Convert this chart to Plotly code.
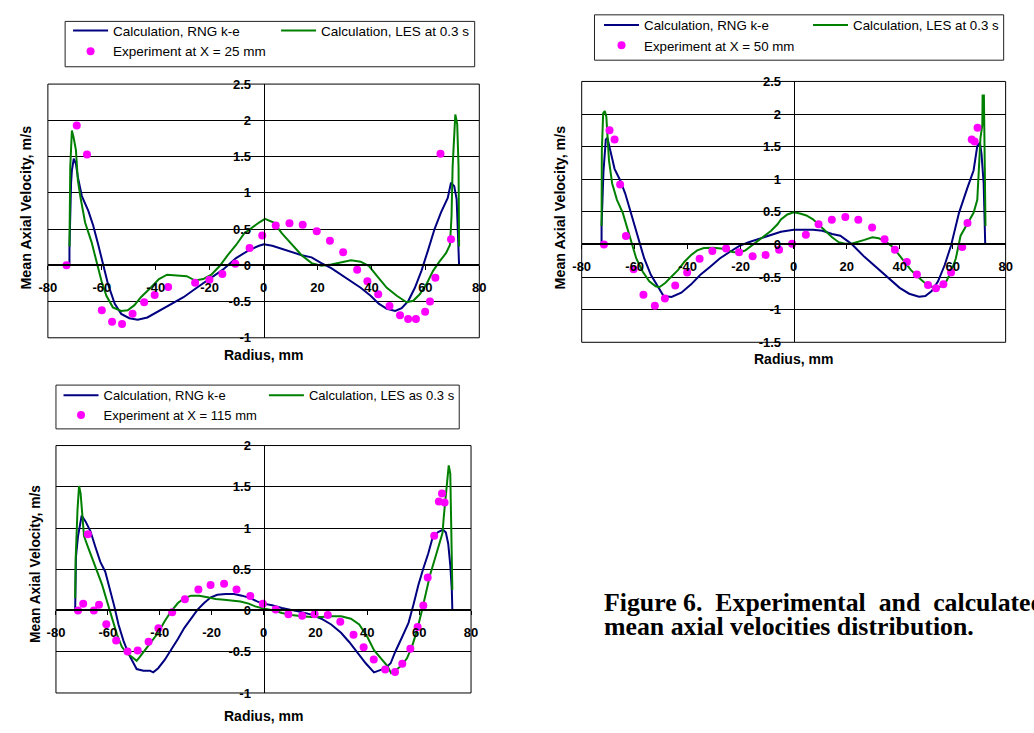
import plotly.graph_objects as go

W, H = 1034, 733

# ---------------- data: chart 1 (X = 25 mm) ----------------
exp1_r = [-73.1, -69.3, -65.5, -60.0, -56.2, -52.5, -48.6, -44.3, -40.4, -35.4, -25.4, -20.1, -15.3, -10.5,
          -5.2, -0.5, 4.5, 9.6, 14.5, 19.7, 24.6, 29.5, 34.7, 38.5, 42.5, 46.7, 50.6, 53.6, 56.5, 59.9,
          61.7, 63.7, 65.6, 69.5]
exp1_v = [0.0, 1.93, 1.53, -0.62, -0.78, -0.81, -0.67, -0.51, -0.41, -0.30, -0.24, -0.20, -0.12, 0.02,
          0.24, 0.41, 0.55, 0.58, 0.56, 0.47, 0.34, 0.18, -0.06, -0.22, -0.40, -0.56, -0.69, -0.74, -0.74, -0.64,
          -0.50, -0.17, 1.54, 0.36]
rng1_r = [-72.0, -72.0, -71.4, -71.1, -70.4, -69.6, -68.9, -67.4, -65.0, -63.2, -61.3, -59.5, -57.7, -55.2,
          -52.8, -49.8, -46.7, -43.1, -39.4, -34.6, -29.7, -24.8, -20.0, -15.1, -10.2, -5.4, -1.7, 0.1, 3.2,
          6.8, 10.5, 14.1, 17.8, 21.4, 25.1, 28.7, 32.4, 36.0, 39.7, 42.7, 45.7, 48.8, 51.2, 53.7, 56.1, 58.5,
          61.0, 63.4, 65.8, 68.3, 69.5, 70.7, 71.6, 72.1, 72.5]
rng1_v = [0.0, 0.23, 1.14, 1.31, 1.47, 1.40, 1.22, 0.955, 0.75, 0.55, 0.28, 0.0, -0.26, -0.53,
          -0.67, -0.73, -0.75, -0.72, -0.64, -0.54, -0.44, -0.31, -0.19, -0.06, 0.10, 0.21, 0.27, 0.29, 0.27,
          0.23, 0.18, 0.14, 0.11, 0.03, -0.04, -0.13, -0.22, -0.31, -0.42, -0.53, -0.60, -0.63, -0.59, -0.49,
          -0.31, -0.08, 0.21, 0.50, 0.73, 0.93, 1.14, 1.09, 0.91, 0.41, 0.0]
les1_r = [-72.0, -71.7, -71.1, -70.5, -69.6, -68.9, -68.0, -66.2, -63.8, -62.0, -60.1, -58.3, -55.9, -52.8,
          -50.4, -47.9, -45.5, -41.9, -38.8, -35.8, -32.1, -28.5, -25.4, -22.4, -19.4, -16.3, -13.3, -10.2,
          -7.2, -4.1, -1.7, 0.5, 3.8, 6.8, 10.5, 14.1, 17.8, 21.4, 25.1, 28.7, 32.4, 36.0, 39.1, 42.1, 45.7,
          49.4, 53.0, 55.5, 57.9, 60.4, 62.8, 65.2, 67.7, 69.1, 69.7, 70.1, 70.5, 71.1, 71.8, 72.3, 72.5]
les1_v = [0.26, 1.36, 1.86, 1.77, 1.59, 1.18, 0.955, 0.59, 0.32, 0.05, -0.22, -0.42, -0.58, -0.63,
          -0.62, -0.55, -0.44, -0.31, -0.19, -0.13, -0.135, -0.15, -0.21, -0.19, -0.13, -0.01, 0.14, 0.28,
          0.44, 0.53, 0.59, 0.64, 0.59, 0.44, 0.28, 0.14, 0.03, -0.005, 0.01, 0.04, 0.07, 0.05, -0.01, -0.15,
          -0.31, -0.42, -0.51, -0.49, -0.40, -0.26, -0.08, 0.05, 0.17, 0.28, 0.68, 1.36, 1.68, 2.08, 1.95,
          1.36, 0.26]

# ---------------- data: chart 2 (X = 50 mm) ----------------
exp2_r = [-71.6, -69.5, -67.6, -65.5, -63.3, -60.4, -56.7, -52.4, -48.6, -44.7, -40.2, -35.5, -30.7, -25.5,
          -20.6, -15.5, -10.6, -5.5, -0.6, 4.6, 9.4, 14.4, 19.5, 24.4, 29.6, 34.3, 38.2, 42.7, 46.5, 50.7,
          53.7, 56.5, 59.4, 63.6, 65.6, 67.2, 68.3, 69.4]
exp2_v = [0.0, 1.75, 1.61, 0.92, 0.13, -0.38, -0.77, -0.94, -0.83, -0.63, -0.43, -0.22, -0.10, -0.06,
          -0.12, -0.18, -0.16, -0.08, 0.01, 0.15, 0.31, 0.38, 0.42, 0.38, 0.26, 0.08, -0.08, -0.27, -0.46, -0.62,
          -0.67, -0.61, -0.43, -0.04, 0.33, 1.61, 1.58, 1.79]
rng2_r = [-72.5, -72.5, -71.8, -70.9, -70.3, -69.1, -67.6, -65.5, -63.6, -61.8, -60.0, -58.2, -56.4, -53.9,
          -50.9, -49.1, -46.1, -42.4, -38.8, -35.2, -31.5, -27.9, -24.2, -20.6, -17.0, -13.3, -9.7, -6.7, -4.8,
          0.0, 7.3, 10.9, 14.5, 17.6, 19.4, 21.8, 26.7, 31.5, 36.4, 40.0, 43.6, 47.3, 49.7, 52.1, 54.5, 57.0,
          59.4, 62.4, 65.5, 67.9, 69.3, 70.3, 70.9, 71.7, 72.3]
rng2_v = [0.0, 0.285, 1.11, 1.61, 1.635, 1.435, 1.16, 0.985, 0.785, 0.535, 0.285, 0.035, -0.215, -0.465,
          -0.655, -0.79, -0.805, -0.74, -0.615, -0.465, -0.34, -0.215, -0.115, -0.025, 0.035, 0.085, 0.135,
          0.175, 0.195, 0.225, 0.225, 0.21, 0.16, 0.135, 0.085, 0.01, -0.19, -0.365, -0.54, -0.665, -0.755,
          -0.80, -0.79, -0.715, -0.565, -0.315, -0.015, 0.485, 0.86, 1.135, 1.51, 1.56, 1.385, 0.94, 0.0]
les2_r = [-72.5, -72.4, -71.9, -71.3, -70.7, -69.7, -68.5, -66.7, -64.5, -63.0, -61.2, -59.4, -57.0, -54.5,
          -52.1, -50.7, -48.5, -46.1, -43.6, -41.2, -38.8, -36.4, -33.9, -30.3, -26.7, -23.0, -20.6, -18.2,
          -15.8, -13.3, -10.9, -8.5, -6.1, -4.8, -2.4, 0.0, 2.4, 4.8, 7.3, 9.7, 12.1, 14.5, 17.0, 19.4, 21.8,
          24.2, 26.7, 29.7, 32.1, 34.5, 37.0, 39.4, 41.8, 44.2, 46.7, 49.1, 51.5, 53.9, 55.8, 57.6, 59.4, 61.2,
          63.0, 65.5, 67.9, 69.3, 70.1, 70.5, 71.2, 71.3, 71.8, 72.1, 72.4]
les2_v = [0.285, 1.435, 2.01, 2.045, 1.96, 1.285, 0.935, 0.685, 0.485, 0.285, 0.035, -0.215, -0.415, -0.565,
          -0.64, -0.655, -0.59, -0.49, -0.39, -0.265, -0.165, -0.09, -0.055, -0.05, -0.065, -0.115, -0.125,
          -0.09, -0.015, 0.06, 0.135, 0.21, 0.31, 0.385, 0.46, 0.495, 0.475, 0.445, 0.385, 0.295, 0.21, 0.11,
          0.035, 0.01, 0.01, 0.035, 0.07, 0.11, 0.095, 0.05, -0.025, -0.14, -0.265, -0.39, -0.49, -0.575, -0.64,
          -0.665, -0.64, -0.565, -0.415, -0.215, 0.135, 0.31, 0.485, 0.685, 1.335, 1.635, 1.835, 2.285, 2.285,
          1.385, 0.285]

# ---------------- data: chart 3 (X = 115 mm) ----------------
exp3_r = [-71.5, -69.5, -67.7, -65.4, -63.4, -60.6, -56.8, -52.4, -48.5, -44.3, -40.5, -35.2, -30.3, -25.1,
          -20.4, -15.2, -10.4, -5.1, -0.25, 4.7, 9.6, 14.9, 19.7, 24.8, 29.6, 34.7, 38.6, 42.5, 46.9, 50.7,
          53.5, 56.6, 59.4, 61.6, 63.3, 65.8, 67.6, 68.8, 69.8]
exp3_v = [0.0, 0.083, 0.925, 0.0, 0.07, -0.167, -0.365, -0.496, -0.484, -0.38, -0.214, -0.02, 0.135, 0.254,
          0.31, 0.325, 0.254, 0.175, 0.083, 0.013, -0.045, -0.065, -0.045, -0.055, -0.135, -0.295, -0.445,
          -0.595, -0.715, -0.745, -0.645, -0.465, -0.20, 0.06, 0.40, 0.905, 1.32, 1.42, 1.31]
rng3_r = [-72.6, -72.3, -71.5, -70.7, -70.1, -68.6, -66.7, -64.8, -62.9, -61.0, -59.3, -57.5, -55.9, -54.0,
          -52.1, -50.2, -48.9, -46.3, -43.8, -42.5, -40.6, -38.1, -35.6, -33.0, -30.5, -27.9, -25.4, -22.9,
          -20.3, -17.8, -14.6, -11.4, -8.3, -5.1, -2.5, 0.0, 3.3, 7.1, 10.9, 14.7, 18.5, 22.3, 26.1, 29.9, 33.1,
          36.3, 39.4, 42.6, 44.5, 47.0, 49.0, 50.8, 53.4, 55.9, 57.8, 59.7, 61.6, 63.5, 65.2, 67.3, 69.2, 70.3,
          71.2, 72.0, 72.6, 72.8]
rng3_v = [0.0, 0.65, 0.90, 1.08, 1.15, 1.08, 0.96, 0.77, 0.59, 0.47, 0.27, 0.05, -0.17, -0.365,
          -0.52, -0.64, -0.71, -0.73, -0.73, -0.75, -0.70, -0.60, -0.48, -0.345, -0.21, -0.09, 0.01, 0.09,
          0.16, 0.19, 0.20, 0.20, 0.18, 0.15, 0.11, 0.083, 0.063, 0.03, 0.008, -0.02, -0.05, -0.10, -0.17,
          -0.27, -0.385, -0.52, -0.64, -0.75, -0.73, -0.70, -0.64, -0.50, -0.325, -0.15, 0.07, 0.31, 0.51, 0.69,
          0.885, 0.95, 0.98, 0.945, 0.81, 0.55, 0.24, 0.0]
les3_r = [-72.6, -72.4, -71.7, -71.1, -70.5, -69.8, -69.2, -67.9, -66.0, -64.1, -62.2, -60.3, -58.4, -56.5,
          -54.6, -52.7, -50.8, -48.9, -47.6, -45.7, -43.2, -40.6, -38.1, -35.6, -33.0, -30.5, -27.9, -24.8,
          -21.6, -18.4, -15.2, -12.1, -8.9, -5.7, -3.2, 0.0, 3.9, 7.1, 10.9, 14.7, 18.5, 22.3, 26.1, 29.9,
          33.7, 36.9, 40.1, 42.6, 45.1, 47.7, 49.2, 50.8, 53.4, 55.3, 57.2, 59.1, 61.0, 62.9, 64.2, 66.1, 67.7,
          69.0, 69.5, 70.3, 70.9, 71.4, 72.0, 72.4, 72.8]
les3_v = [0.15, 0.63, 1.22, 1.51, 1.42, 1.14, 0.905, 0.79, 0.63, 0.47, 0.31, 0.11, -0.09, -0.29,
          -0.44, -0.52, -0.56, -0.61, -0.56, -0.48, -0.385, -0.27, -0.13, -0.01, 0.09, 0.15, 0.18, 0.18,
          0.16, 0.14, 0.13, 0.12, 0.11, 0.083, 0.05, 0.024, 0.0, -0.03, -0.055, -0.07, -0.08, -0.08, -0.07,
          -0.07, -0.10, -0.17, -0.325, -0.48, -0.58, -0.67, -0.76, -0.73, -0.66, -0.58, -0.44, -0.25, -0.01,
          0.27, 0.43, 0.63, 0.79, 0.94, 1.14, 1.42, 1.66, 1.76, 1.66, 0.98, 0.25]

# ---------------- labels / ticks ----------------
name_rng = "Calculation, RNG k-e"
names_les = ["Calculation, LES at 0.3 s", "Calculation, LES at 0.3 s", "Calculation, LES as 0.3 s"]
names_exp = ["Experiment at X = 25 mm", "Experiment at X = 50 mm", "Experiment at X = 115 mm"]
x_tickvals = [-80, -60, -40, -20, 0, 20, 40, 60, 80]
x_ticktext = ["-80", "-60", "-40", "-20", "0", "20", "40", "60", "80"]
y_tickvals = [[-1, -0.5, 0, 0.5, 1, 1.5, 2, 2.5],
              [-1.5, -1, -0.5, 0, 0.5, 1, 1.5, 2, 2.5],
              [-1, -0.5, 0, 0.5, 1, 1.5, 2]]
y_ticktext = [[("%g" % v) for v in tv] for tv in y_tickvals]
y_ranges = [(-1, 2.5), (-1.5, 2.5), (-1, 2)]
x_title = "Radius, mm"
y_title = "Mean Axial Velocity, m/s"
caption1 = "Figure 6.\u00a0\u00a0Experimental\u00a0\u00a0and\u00a0\u00a0calculated"
caption2 = "mean axial velocities distribution."

series = [(exp1_r, exp1_v, rng1_r, rng1_v, les1_r, les1_v),
          (exp2_r, exp2_v, rng2_r, rng2_v, les2_r, les2_v),
          (exp3_r, exp3_v, rng3_r, rng3_v, les3_r, les3_v)]

# ---------------- layout geometry (pixels) ----------------
boxes = [(39.5, 477.7, 78.7, 337.7), (581.7, 1012.3, 76.0, 342.3), (47.7, 469.3, 447.7, 700.3)]
legend_boxes = [(57, 473, 14.7, 61), (594.7, 1010.3, 8, 54.3), (47.7, 457.3, 386, 430.7)]
legend_pos = [(60, 8.5, 158, 13.5), (599.3, 3.0, 159, 13.3), (50.3, 381.0, 155.4, 13)]
xtitle_pos = [(258.3, 355), (797, 359), (258, 724)]
ytitle_pos = [(17, 205, 14.3), (559.3, 205, 14.3), (26.7, 568.3, 13.8)]

BLUE, GREEN, MAG = "#000080", "#008000", "#ff00ff"
SANS = "Liberation Sans, Arial, sans-serif"
SERIF = "Liberation Serif, Times New Roman, serif"


def fx(px):
    return px / W


def fy(py):
    return 1 - py / H


fig = go.Figure()
layout = dict(width=W, height=H, margin=dict(l=0, r=0, t=0, b=0),
              paper_bgcolor="white", plot_bgcolor="white", showlegend=True)
shapes, annotations = [], []

for i, (er, ev, rr, rv, lr, lv) in enumerate(series):
    s = "" if i == 0 else str(i + 1)
    xa, ya, lg = "x" + s, "y" + s, "legend" + s
    fig.add_trace(go.Scatter(x=rr, y=rv, mode="lines", line=dict(color=BLUE, width=2),
                             name=name_rng, xaxis=xa, yaxis=ya, legend=lg, legendgroup="a" + s,
                             hoverinfo="skip"))
    fig.add_trace(go.Scatter(x=lr, y=lv, mode="lines", line=dict(color=GREEN, width=2),
                             name=names_les[i], xaxis=xa, yaxis=ya, legend=lg, legendgroup="b" + s,
                             hoverinfo="skip"))
    fig.add_trace(go.Scatter(x=er, y=ev, mode="markers", marker=dict(color=MAG, size=8),
                             name=names_exp[i], xaxis=xa, yaxis=ya, legend=lg, legendgroup="a" + s,
                             hoverinfo="skip"))

    l, r, t, b = boxes[i]
    ymin, ymax = y_ranges[i]
    y0frac = fy(b) + (0 - ymin) / (ymax - ymin) * (fy(t) - fy(b))
    x0frac = fx((l + r) / 2)
    tickfont = dict(family=SANS, size=13, color="black", weight="bold")
    layout["xaxis" + s] = dict(domain=[fx(l), fx(r)], range=[-80, 80], anchor="free", position=y0frac,
                               tickvals=x_tickvals, ticktext=x_ticktext, ticks="outside", ticklen=4,
                               tickcolor="black", tickwidth=1, showline=True, linecolor="black",
                               linewidth=2, showgrid=False, zeroline=False, tickfont=tickfont,
                               ticklabelstandoff=6, fixedrange=True)
    layout["yaxis" + s] = dict(domain=[fy(b), fy(t)], range=[ymin, ymax], anchor="free", position=x0frac,
                               tickvals=y_tickvals[i], ticktext=y_ticktext[i], ticks="",
                               showline=True, linecolor="black", linewidth=1, showgrid=True,
                               gridcolor="black", gridwidth=1, zeroline=False, tickfont=tickfont,
                               ticklabelstandoff=10, fixedrange=True)
    shapes.append(dict(type="rect", xref=xa + " domain", yref=ya + " domain", x0=0, x1=1, y0=0, y1=1,
                       line=dict(color="black", width=1), fillcolor="rgba(0,0,0,0)", layer="above"))
    # legend frame
    L, R, T, B = legend_boxes[i]
    shapes.append(dict(type="rect", xref="paper", yref="paper", x0=fx(L), x1=fx(R), y0=fy(B), y1=fy(T),
                       line=dict(color="#222222", width=1), fillcolor="rgba(0,0,0,0)"))
    lx, ly, ew, fs = legend_pos[i]
    layout[lg] = dict(x=fx(lx), y=fy(ly), xanchor="left", yanchor="top", orientation="h",
                      traceorder="grouped", entrywidth=ew, entrywidthmode="pixels", itemwidth=35,
                      bgcolor="rgba(0,0,0,0)", borderwidth=0, tracegroupgap=0,
                      font=dict(family=SANS, size=fs, color="black"))
    tx, ty = xtitle_pos[i]
    annotations.append(dict(text=x_title, x=fx(tx), y=fy(ty), xref="paper", yref="paper",
                            xanchor="center", yanchor="middle", showarrow=False,
                            font=dict(family=SANS, size=14, color="black", weight="bold")))
    vx, vy, vs = ytitle_pos[i]
    annotations.append(dict(text=y_title, x=fx(vx), y=fy(vy), xref="paper", yref="paper",
                            xanchor="center", yanchor="middle", showarrow=False, textangle=-90,
                            font=dict(family=SANS, size=vs, color="black", weight="bold")))

annotations.append(dict(text=caption1, x=fx(602), y=fy(608), xref="paper", yref="paper",
                        xanchor="left", yanchor="middle", showarrow=False,
                        font=dict(family=SERIF, size=25.8, color="black", weight="bold")))
annotations.append(dict(text=caption2, x=fx(602), y=fy(632), xref="paper", yref="paper",
                        xanchor="left", yanchor="middle", showarrow=False,
                        font=dict(family=SERIF, size=25.8, color="black", weight="bold")))

layout["shapes"] = shapes
layout["annotations"] = annotations
fig.update_layout(**layout)
fig.write_html("out.html", config={"displayModeBar": False})
